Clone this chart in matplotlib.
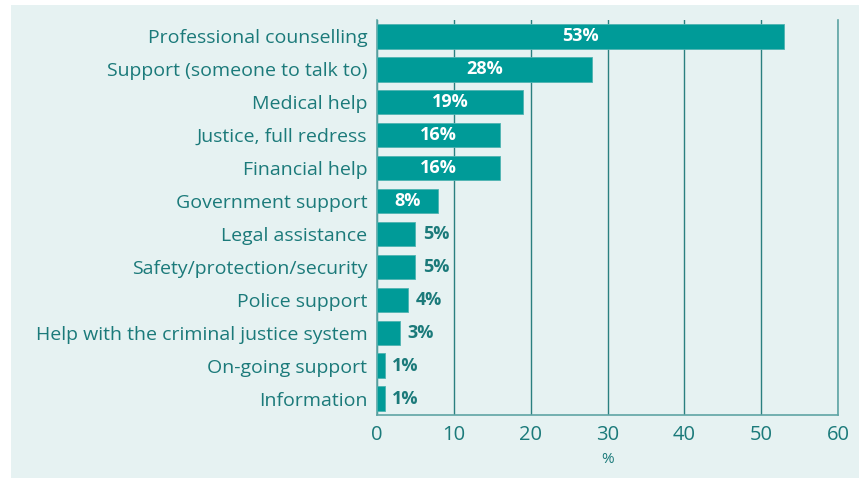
import matplotlib.pyplot as plt
from matplotlib.patches import Rectangle

categories = ['Professional counselling', 'Support (someone to talk to)', 'Medical help',
              'Justice, full redress', 'Financial help', 'Government support',
              'Legal assistance', 'Safety/protection/security', 'Police support',
              'Help with the criminal justice system', 'On-going support', 'Information']
values = [53, 28, 19, 16, 16, 8, 5, 5, 4, 3, 1, 1]
xticks = [0, 10, 20, 30, 40, 50, 60]

bg = '#e6f2f2'
bar_col = '#009b98'
txt = '#1b7a7a'
grid_col = '#2a8080'

plt.rcParams['font.family'] = ['Open Sans', 'DejaVu Sans']

fig = plt.figure(figsize=(8.59, 4.78), dpi=100)
fig.patches.append(Rectangle((11 / 859, 0), 1, 1 - 5 / 478, transform=fig.transFigure,
                             facecolor=bg, edgecolor='none', zorder=-1))
ax = fig.add_axes([377 / 859, 1 - 415 / 478, 461 / 859, 395 / 478])
ax.set_facecolor(bg)

pos = list(range(len(categories)))
ax.barh(pos, values, height=0.74, color=bar_col, edgecolor='#4fb3b1', linewidth=0.6, zorder=3)

for y, v in zip(pos, values):
    if v >= 8:
        ax.text(v / 2, y, f'{v}%', color='white', fontsize=13, fontweight='bold',
                ha='center', va='center', zorder=4)
    else:
        ax.text(v + 1.0, y, f'{v}%', color=txt, fontsize=13, fontweight='bold',
                ha='left', va='center', zorder=4)

ax.set_xlim(0, 60)
ax.set_ylim(len(categories) - 0.5, -0.5)
ax.set_xticks(xticks)
ax.set_yticks(pos)
ax.set_yticklabels(categories)
ax.tick_params(axis='both', length=0, colors=txt)
ax.tick_params(axis='y', pad=7, labelsize=14)
ax.tick_params(axis='x', pad=7, labelsize=14.5)
ax.xaxis.grid(True, color=grid_col, linewidth=1.0, zorder=0)
ax.set_axisbelow(True)
for s in ['top']:
    ax.spines[s].set_visible(False)
for s in ['left', 'bottom', 'right']:
    ax.spines[s].set_color('#5fa5a5')
    ax.spines[s].set_linewidth(1.2)
ax.set_xlabel('%', color=txt, fontsize=11, labelpad=5)

fig.savefig('out.png', dpi=100)
